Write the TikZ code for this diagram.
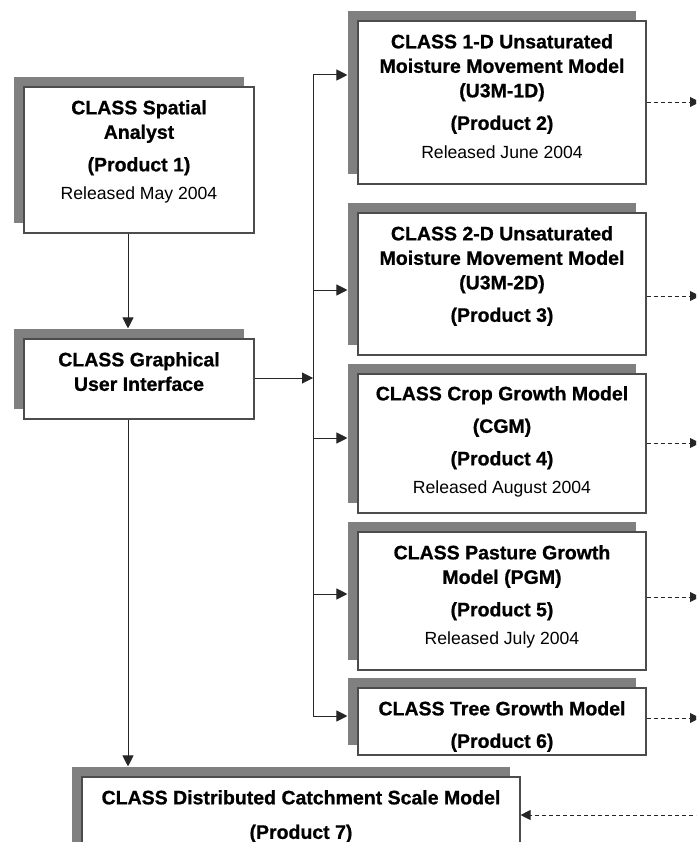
\documentclass[tikz,border=0pt]{standalone}
\usepackage{fontspec}
\setmainfont[BoldFeatures={FakeBold=0.8}]{Liberation Sans}
\usetikzlibrary{arrows.meta,shadows}

\tikzset{
  modbox/.style={draw=black!70, line width=1.1pt, fill=white, inner sep=0pt,
    general shadow={fill=black!50, shadow xshift=-10pt, shadow yshift=10pt}},
  boxtxt/.style={anchor=north, inner sep=0pt, align=center,
    font=\bfseries\fontsize{19.5}{24.5}\selectfont},
  link/.style={draw=black!85, line width=1pt, -{Triangle[length=11pt,width=11pt]}},
  feed/.style={draw=black!85, line width=0.9pt, dash pattern=on 4pt off 3pt,
    -{Triangle[length=10pt,width=10pt]}}
}
\newcommand{\reldate}[1]{{\mdseries\fontsize{17.6}{20}\selectfont #1}}

\begin{document}
\begin{tikzpicture}[x=1pt,y=-1pt]
\path[use as bounding box, clip] (0,0) rectangle (696,842);
\coordinate (trunk) at (128,0);
\coordinate (bus) at (313,378);
\coordinate (bustop) at (313,75);
\coordinate (busbot) at (313,716);
\coordinate (edge) at (700,0);
% left column
\node[modbox, minimum width=230pt, minimum height=146pt] (sa) at (139,160) {};
\node[boxtxt] (satxt) at (139,100) {CLASS Spatial\\Analyst\\[8pt](Product 1)\\[4pt]\reldate{Released May 2004}};
\node[modbox, minimum width=230pt, minimum height=80pt] (gui) at (139,379) {};
\node[boxtxt] (guitxt) at (139,352) {CLASS Graphical\\User Interface};
% model column
\node[modbox, minimum width=288pt, minimum height=163pt] (p2) at (502,102.5) {};
\node[boxtxt] (p2txt) at (502,34) {CLASS 1-D Unsaturated\\Moisture Movement Model\\(U3M-1D)\\[8pt](Product 2)\\[4pt]\reldate{Released June 2004}};
\node[modbox, minimum width=288pt, minimum height=142pt] (p3) at (502,284) {};
\node[boxtxt] (p3txt) at (502,226) {CLASS 2-D Unsaturated\\Moisture Movement Model\\(U3M-2D)\\[8pt](Product 3)};
\node[modbox, minimum width=288pt, minimum height=139pt] (p4) at (502,443.5) {};
\node[boxtxt] (p4txt) at (502,386) {CLASS Crop Growth Model\\[8pt](CGM)\\[8pt](Product 4)\\[4pt]\reldate{Released August 2004}};
\node[modbox, minimum width=288pt, minimum height=138pt] (p5) at (502,601) {};
\node[boxtxt] (p5txt) at (502,545) {CLASS Pasture Growth\\Model (PGM)\\[8pt](Product 5)\\[4pt]\reldate{Released July 2004}};
\node[modbox, minimum width=288pt, minimum height=67pt] (p6) at (502,721.5) {};
\node[boxtxt] (p6txt) at (502,701) {CLASS Tree Growth Model\\[8pt](Product 6)};
% catchment model, runs off the page
\node[modbox, minimum width=438pt, minimum height=90pt] (cat) at (301,822) {};
\node[boxtxt] (cattxt) at (301,790) {CLASS Distributed Catchment Scale Model\\[10pt](Product 7)};
% links
\draw[link] (sa.south -| trunk) -- ([yshift=10pt]gui.north -| trunk);
\draw[link] (gui.south -| trunk) -- ([yshift=10pt]cat.north -| trunk);
\draw[link] (gui.east |- bus) -- (bus);
\draw[draw=black!85, line width=1pt] (bustop) -- (busbot);
\foreach \b/\y in {p2/75, p3/290, p4/438, p5/594, p6/716}
  \draw[link] (bustop |- 0,\y) -- ([xshift=-10pt]\b.west |- 0,\y);
\foreach \b/\y in {p2/102, p3/296, p4/443, p5/597, p6/718}
  \draw[feed] (\b.east |- 0,\y) -- (edge |- 0,\y);
\draw[feed] (edge |- 0,815) -- (cat.east |- 0,815);
\end{tikzpicture}
\end{document}
